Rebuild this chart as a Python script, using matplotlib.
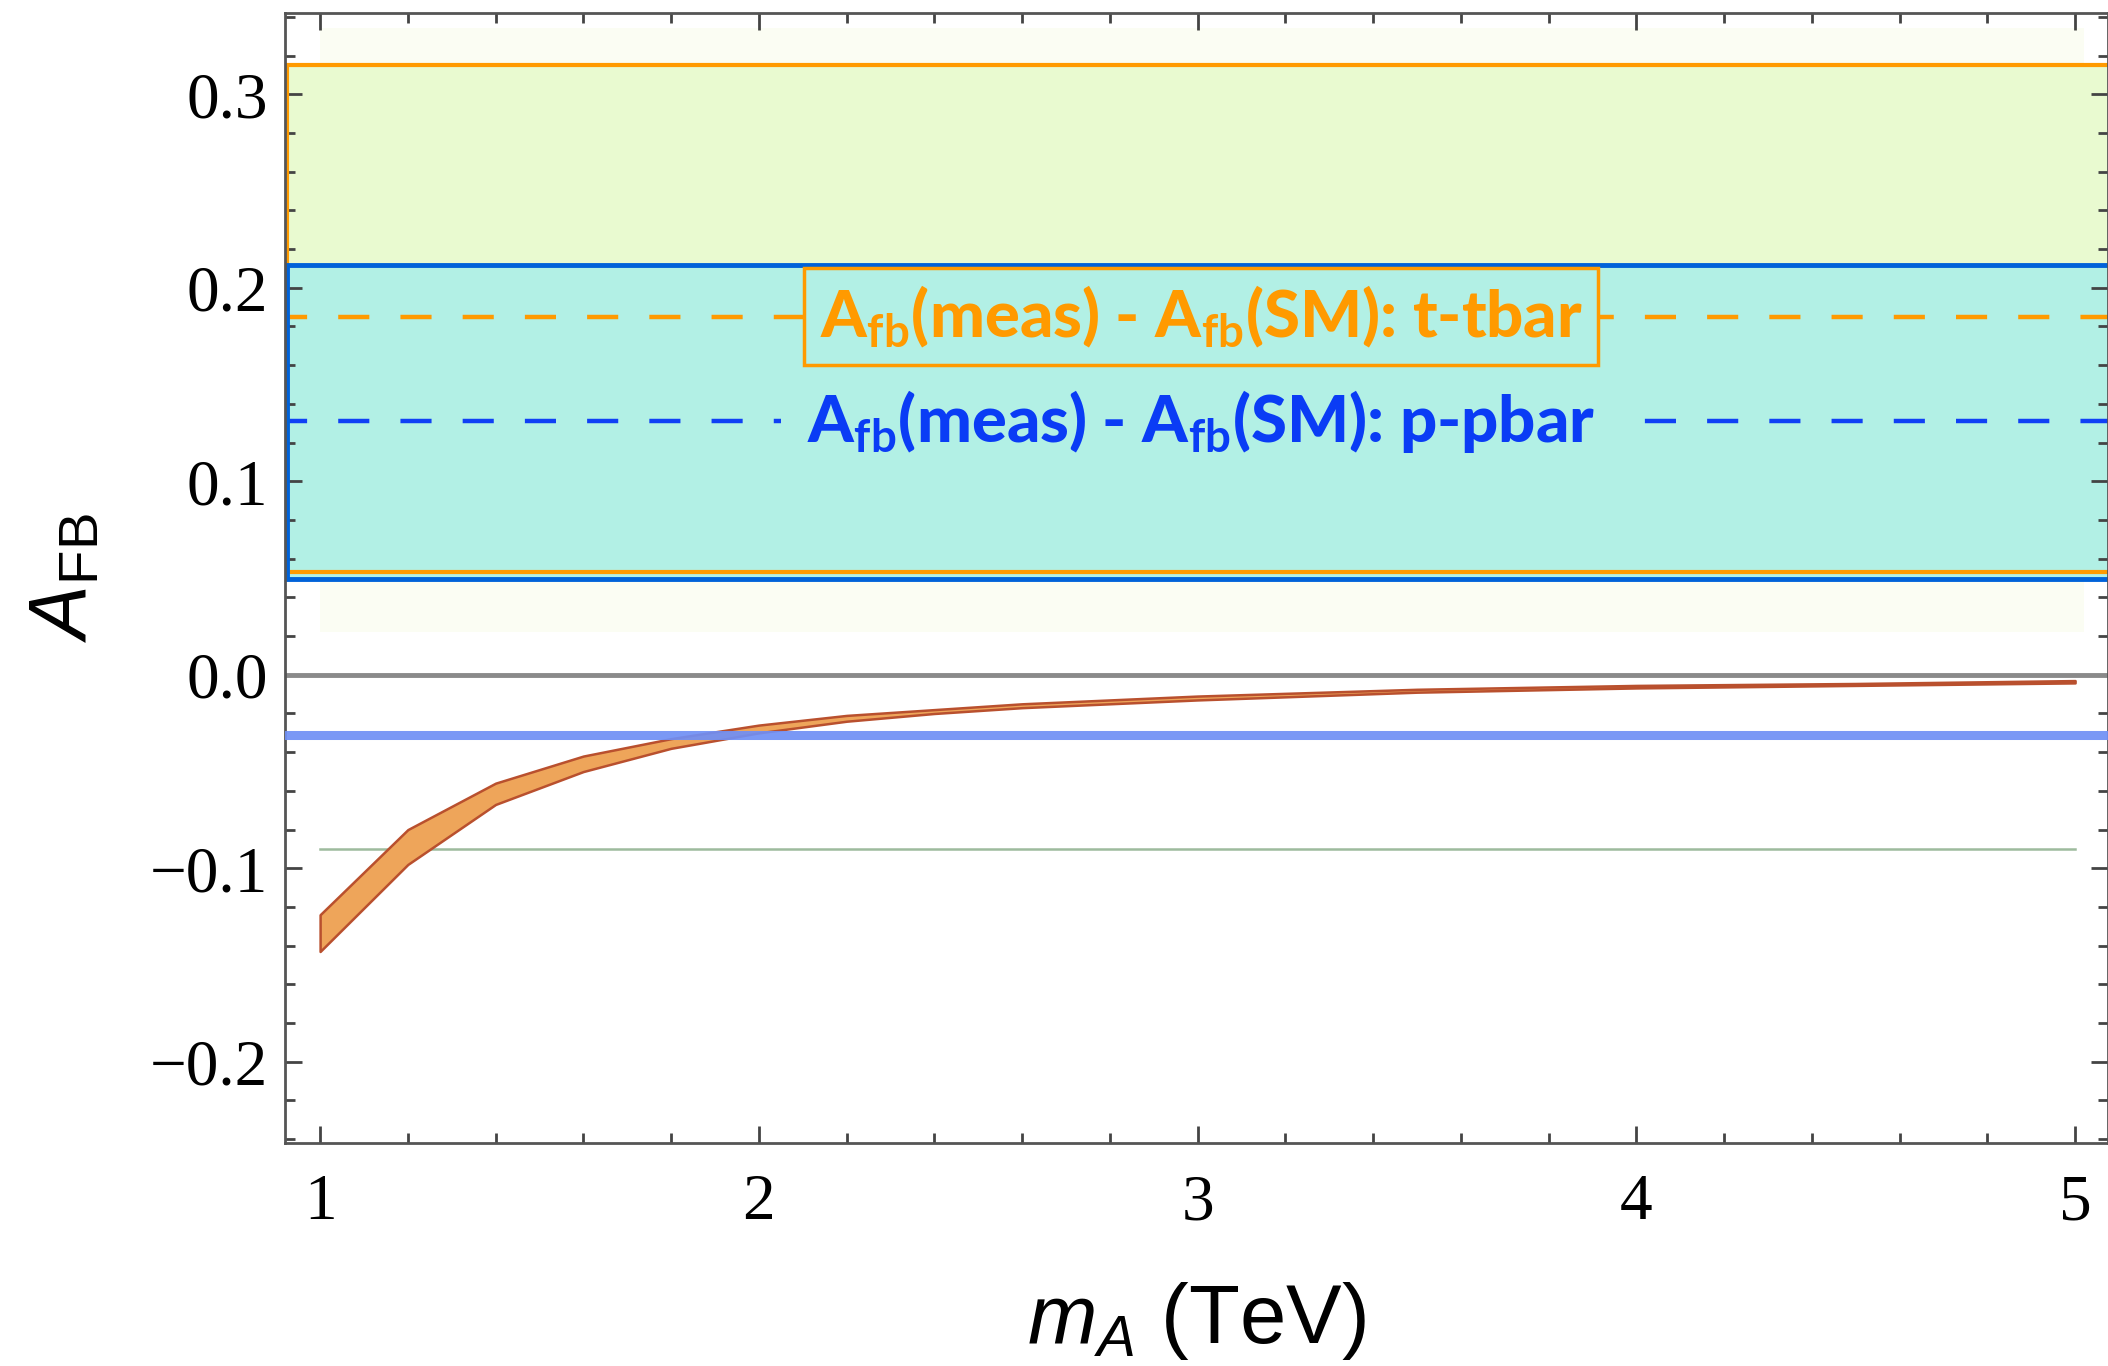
import numpy as np
import matplotlib
matplotlib.use("Agg")
import matplotlib.pyplot as plt
from matplotlib.ticker import MultipleLocator

plt.rcParams['mathtext.fontset'] = 'custom'
plt.rcParams['mathtext.rm'] = 'Lato:bold'
plt.rcParams['mathtext.it'] = 'Liberation Sans:italic'
plt.rcParams['mathtext.sf'] = 'Liberation Sans'

# band of A_FB vs m_A (TeV)
m_A = [1.0, 1.2, 1.4, 1.6, 1.8, 2.0, 2.2, 2.4, 2.6, 2.8, 3.0, 3.5, 4.0, 4.5, 5.0]
afb_upper = [-0.124, -0.080, -0.056, -0.042, -0.033, -0.026, -0.021, -0.018,
             -0.015, -0.013, -0.011, -0.0075, -0.0055, -0.0045, -0.003]
afb_lower = [-0.143, -0.098, -0.067, -0.050, -0.038, -0.030, -0.024, -0.020,
             -0.017, -0.015, -0.013, -0.009, -0.0068, -0.0055, -0.0042]

# measured minus SM ranges (low, central, high)
ttbar_band = (0.053, 0.185, 0.315)
ppbar_band = (0.0496, 0.131, 0.212)
blue_line = -0.031
green_line = -0.090

orange = '#ff9a00'
blue_edge = '#0062d9'
blue_text = '#0a3cf5'
green_fill = '#e9fad0'
cyan_fill = '#b2f0e5'

fig = plt.figure(figsize=(21.08, 13.66), dpi=100)
ax = fig.add_axes([0.1352, 0.1632, 0.8648, 0.8273])
ax.set_xlim(0.92, 5.075)
ax.set_ylim(-0.242, 0.342)

x_wide = [0.9, 5.3]
# faint plot-region background
ax.fill_between([1.0, 5.02], 0.022, 0.334, color='#fbfdf3', lw=0, zorder=0)

# t-tbar band
ax.fill_between(x_wide, ttbar_band[0], ttbar_band[2], color=green_fill, lw=0, zorder=1)
# p-pbar band
ax.fill_between(x_wide, ppbar_band[0], ppbar_band[2], color=cyan_fill, lw=0, zorder=1.1)

x0 = 0.925
ax.plot([5.3, x0, x0, 5.3], [ttbar_band[2], ttbar_band[2], ttbar_band[0], ttbar_band[0]],
        color=orange, lw=3, zorder=2, solid_joinstyle='miter')
ax.plot([5.3, x0, x0, 5.3], [ppbar_band[2], ppbar_band[2], ppbar_band[0], ppbar_band[0]],
        color=blue_edge, lw=3.5, zorder=2.1, solid_joinstyle='miter')

ax.plot(x_wide, [ttbar_band[1]] * 2, color=orange, lw=3.2, dashes=(7, 7), zorder=2)
ax.plot(x_wide, [ppbar_band[1]] * 2, color='#1040f5', lw=3.2, dashes=(7, 7), zorder=2)

# zero line and the other references
ax.axhline(0.0, color='#8a8a8a', lw=3.5, zorder=2)
ax.plot([1.0, 5.0], [green_line] * 2, color='#9dbb9d', lw=1.8, zorder=2)

ax.fill_between(m_A, afb_lower, afb_upper, facecolor='#eea55a', edgecolor='#b9502e',
                lw=1.8, zorder=3)
ax.axhline(blue_line, color='#6f8ff5', lw=6.5, alpha=0.92, zorder=4)

txt_kw = dict(ha='center', va='center', fontsize=47, fontweight='black',
              family='Lato')
ax.text(3.008, ppbar_band[1], 'A$_{\\mathrm{fb}}$(meas) - A$_{\\mathrm{fb}}$(SM): p-pbar',
        color=blue_text, zorder=5,
        bbox=dict(boxstyle='square,pad=0.4', fc=cyan_fill, ec='none'), **txt_kw)
ax.text(3.008, ttbar_band[1], 'A$_{\\mathrm{fb}}$(meas) - A$_{\\mathrm{fb}}$(SM): t-tbar',
        color=orange, zorder=6,
        bbox=dict(boxstyle='square,pad=0.24', fc=cyan_fill, ec=orange, lw=2.5), **txt_kw)

# frame and ticks
for s in ax.spines.values():
    s.set_color('#555555')
    s.set_linewidth(2)
ax.xaxis.set_major_locator(MultipleLocator(1))
ax.xaxis.set_minor_locator(MultipleLocator(0.2))
ax.yaxis.set_major_locator(MultipleLocator(0.1))
ax.yaxis.set_minor_locator(MultipleLocator(0.02))
ax.tick_params(which='both', direction='in', top=True, right=True, color='#444444')
ax.tick_params(which='major', length=12, width=2)
ax.tick_params(which='minor', length=7, width=2)
ax.tick_params(axis='x', which='major', pad=22)
ax.tick_params(axis='y', which='major', pad=12)
ax.set_yticks([-0.2, -0.1, 0.0, 0.1, 0.2, 0.3])
ax.set_yticklabels(['\u22120.2', '\u22120.1', '0.0', '0.1', '0.2', '0.3'])
ax.set_xticks([1, 2, 3, 4, 5])
ax.set_xticklabels(['1', '2', '3', '4', '5'])
for lab in ax.get_xticklabels() + ax.get_yticklabels():
    lab.set_family('Liberation Serif')
    lab.set_fontsize(47)

ax.set_xlabel('$m_A$ (TeV)', family='Liberation Sans', fontsize=60, labelpad=34)
ax.set_ylabel('$A_{\\mathsf{FB}}$', family='Liberation Sans', fontsize=58, labelpad=34)

fig.savefig('out.png', dpi=100)
